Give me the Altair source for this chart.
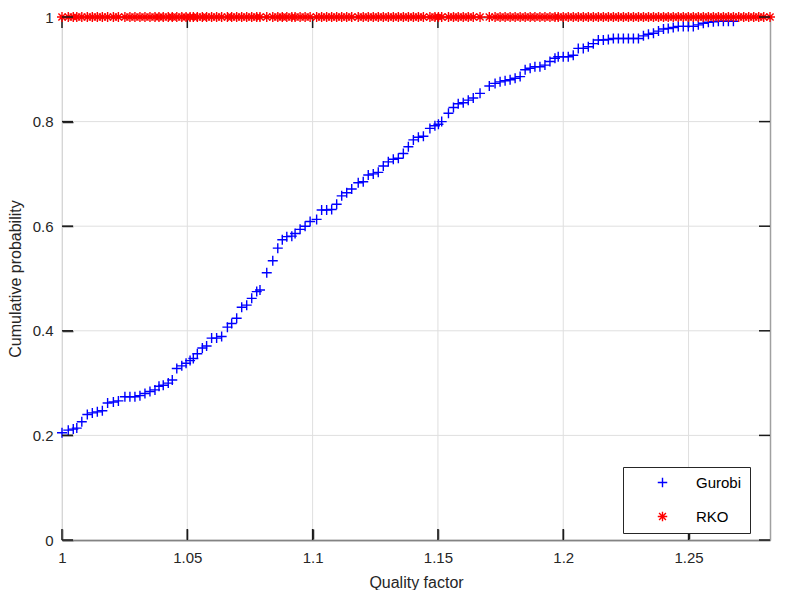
import altair as alt
import pandas as pd

# ---- data ----
gurobi_x = [1.0000, 1.0025, 1.0045, 1.0059, 1.0079, 1.0101, 1.0121, 1.0141, 1.0161, 1.0182,
            1.0205, 1.0225, 1.0251, 1.0271, 1.0291, 1.0311, 1.0331, 1.0351, 1.0371, 1.0387,
            1.0404, 1.0424, 1.0440, 1.0458, 1.0478,
            1.0495, 1.0511, 1.0524, 1.0540, 1.0560, 1.0577, 1.0597, 1.0617, 1.0637, 1.0660,
            1.0677, 1.0697, 1.0717, 1.0737, 1.0757, 1.0777, 1.0790,
            1.0817, 1.0841, 1.0861, 1.0879, 1.0897, 1.0917, 1.0930, 1.0950, 1.0970, 1.0990,
            1.1016, 1.1036, 1.1056, 1.1076, 1.1096, 1.1116, 1.1136,
            1.1156, 1.1182, 1.1202, 1.1222, 1.1242, 1.1262, 1.1282, 1.1302, 1.1322, 1.1342,
            1.1362, 1.1382, 1.1402, 1.1422, 1.1442, 1.1468, 1.1488, 1.1502,
            1.1515, 1.1542, 1.1562, 1.1581, 1.1601, 1.1621, 1.1641, 1.1668, 1.1705, 1.1728,
            1.1748, 1.1768, 1.1788, 1.1808, 1.1828, 1.1848, 1.1868, 1.1887, 1.1907, 1.1927,
            1.1947, 1.1967,
            1.1980, 1.2000, 1.2020, 1.2040, 1.2060, 1.2080, 1.2100, 1.2120, 1.2140, 1.2160,
            1.2180, 1.2200, 1.2220, 1.2240, 1.2260, 1.2280, 1.2300, 1.2320, 1.2340, 1.2360,
            1.2380, 1.2400, 1.2419, 1.2439, 1.2459, 1.2479, 1.2499, 1.2519, 1.2539, 1.2559,
            1.2579, 1.2599, 1.2619, 1.2639, 1.2659, 1.2679]
gurobi_y = [0.205, 0.210, 0.212, 0.214, 0.226, 0.240, 0.243, 0.245, 0.247, 0.262,
            0.264, 0.266, 0.274, 0.274, 0.274, 0.276, 0.280, 0.284, 0.287, 0.294,
            0.296, 0.300, 0.306, 0.328, 0.333,
            0.338, 0.343, 0.347, 0.356, 0.367, 0.371, 0.386, 0.386, 0.389, 0.407,
            0.414, 0.424, 0.445, 0.449, 0.462, 0.475, 0.478,
            0.511, 0.534, 0.558, 0.574, 0.580, 0.581, 0.586, 0.594, 0.600, 0.609,
            0.613, 0.631, 0.631, 0.632, 0.642, 0.658, 0.664,
            0.671, 0.683, 0.685, 0.698, 0.700, 0.703, 0.715, 0.723, 0.728, 0.730,
            0.739, 0.752, 0.765, 0.770, 0.772, 0.787, 0.792, 0.795,
            0.800, 0.816, 0.827, 0.834, 0.836, 0.841, 0.845, 0.854, 0.868, 0.873,
            0.876, 0.878, 0.880, 0.883, 0.886, 0.899, 0.902, 0.905, 0.905, 0.908,
            0.915, 0.921,
            0.924, 0.924, 0.924, 0.927, 0.940, 0.940, 0.943, 0.949, 0.956, 0.956,
            0.957, 0.959, 0.959, 0.959, 0.959, 0.959, 0.959, 0.964, 0.967, 0.969,
            0.973, 0.977, 0.978, 0.980, 0.982, 0.982, 0.982, 0.982, 0.985, 0.988,
            0.990, 0.991, 0.992, 0.992, 0.992, 0.992]

# RKO: cumulative probability 1 on the same x grid, continuing to the axis end
rko_tail_x = [1.2700, 1.2720, 1.2740, 1.2760, 1.2780, 1.2800, 1.2825]
rko_x = gurobi_x + rko_tail_x
rko_y = [1.0] * len(rko_x)

series_names = ["Gurobi", "RKO"]
x_ticks = [1, 1.05, 1.1, 1.15, 1.2, 1.25]
y_ticks = [0, 0.2, 0.4, 0.6, 0.8, 1]
x_lim = [1, 1.2825]
y_lim = [0, 1]

df = pd.concat([
    pd.DataFrame({"series": "Gurobi", "x": gurobi_x, "y": gurobi_y}),
    pd.DataFrame({"series": "RKO", "x": rko_x, "y": rko_y}),
], ignore_index=True)

W, H = 708, 523
TICK = 11  # tick length in pixels
tx = TICK / W * (x_lim[1] - x_lim[0])
ty = TICK / H * (y_lim[1] - y_lim[0])
xt_df = pd.DataFrame({"v": [float(v) for v in x_ticks]})
yt_df = pd.DataFrame({"v": [float(v) for v in y_ticks]})
bottom_df = pd.DataFrame({"v": [float(v) for v in x_ticks], "a": float(y_lim[0]), "b": y_lim[0] + ty})
top_df = pd.DataFrame({"v": [float(v) for v in x_ticks], "a": y_lim[1] - ty, "b": float(y_lim[1])})
left_df = pd.DataFrame({"v": [float(v) for v in y_ticks], "a": float(x_lim[0]), "b": x_lim[0] + tx})
right_df = pd.DataFrame({"v": [float(v) for v in y_ticks], "a": x_lim[1] - tx, "b": float(x_lim[1])})

# ---- styling ----
FONT = "Liberation Sans, Arial, Helvetica, sans-serif"
DARK = "#262626"
GRID = "#dfdfdf"
PLUS = "M-1,0L1,0M0,-1L0,1"
STAR = "M-1,0L1,0M0,-1L0,1M-0.72,-0.72L0.72,0.72M-0.72,0.72L0.72,-0.72"

xscale = alt.Scale(domain=x_lim, nice=False, zero=False)
yscale = alt.Scale(domain=y_lim, nice=False, zero=False)

base = alt.Chart(df)

legend = alt.Legend(
    title=None, orient="none", legendX=561, legendY=450,
    padding=8, strokeColor=DARK, fillColor="white",
    labelFont=FONT, labelFontSize=15, labelColor="black",
    symbolSize=90, symbolStrokeWidth=1.4,
    rowPadding=17, symbolOffset=24, labelOffset=26,
    labelExpr="datum.label + '\u00a0\u00a0\u00a0\u00a0\u00a0\u00a0\u00a0'",
)

main = base.mark_point(filled=False, size=100, strokeWidth=1.4, opacity=1).encode(
    x=alt.X("x:Q", scale=xscale, axis=alt.Axis(
        orient="bottom", values=x_ticks, format="~g", title="Quality factor",
        grid=False, ticks=False, tickSize=0, domain=True, domainColor=DARK, domainWidth=1.3,
        labelPadding=10, labelFont=FONT, labelFontSize=15, labelColor=DARK,
        labelFlush=False, labelOverlap=False,
        titleFont=FONT, titleFontSize=16, titleFontWeight="normal", titleColor=DARK,
        titlePadding=9)),
    y=alt.Y("y:Q", scale=yscale, axis=alt.Axis(
        orient="left", values=y_ticks, format="~g", title="Cumulative probability",
        grid=False, ticks=False, tickSize=0, domain=True, domainColor="#cccccc", domainWidth=1,
        labelPadding=9, labelFont=FONT, labelFontSize=15, labelColor=DARK,
        labelFlush=False, labelOverlap=False,
        titleFont=FONT, titleFontSize=16, titleFontWeight="normal", titleColor=DARK,
        titlePadding=9)),
    color=alt.Color("series:N", scale=alt.Scale(domain=series_names, range=["#0000ff", "#ff0000"]),
                    legend=legend),
    shape=alt.Shape("series:N", scale=alt.Scale(domain=series_names, range=[PLUS, STAR]),
                    legend=legend),
)

# grid lines (drawn first, beneath everything)
grid_x = alt.Chart(xt_df).mark_rule(color=GRID, strokeWidth=1).encode(
    x=alt.X("v:Q", scale=xscale, axis=None))
grid_y = alt.Chart(yt_df).mark_rule(color=GRID, strokeWidth=1).encode(
    y=alt.Y("v:Q", scale=yscale, axis=None))

# frame (top and right edges of the box)
frame = base.mark_point(opacity=0).encode(
    x=alt.X("x:Q", scale=xscale, axis=alt.Axis(
        orient="top", labels=False, ticks=False, grid=False, domain=True,
        domainColor=DARK, domainWidth=1.3, title=None)),
    y=alt.Y("y:Q", scale=yscale, axis=alt.Axis(
        orient="right", labels=False, ticks=False, grid=False, domain=True,
        domainColor="#a0a0a0", domainWidth=1.5, title=None)),
)


# inward ticks via opposite-side axes moved across the plot (outward ticks then point inward)
def tick_only(orient, vals, off):
    return alt.Axis(orient=orient, values=vals, labels=False, domain=False, grid=False,
                    ticks=True, tickSize=TICK, offset=off, tickColor="#1a1a1a",
                    tickWidth=1.5, title=None)


ticks_axes_a = base.mark_point(opacity=0).encode(
    x=alt.X("x:Q", scale=xscale, axis=tick_only("top", x_ticks, -H)),      # bottom edge, pointing up
    y=alt.Y("y:Q", scale=yscale, axis=tick_only("right", y_ticks, -W)),    # left edge, pointing right
)

# inward tick marks as field-driven segments (backup)
rs = dict(color="#1a1a1a", strokeWidth=1.5)


def vtick(d):
    return alt.Chart(d).mark_rule(**rs).encode(
        x=alt.X("v:Q", scale=xscale, axis=None),
        y=alt.Y("a:Q", scale=yscale, axis=None), y2="b:Q")


def htick(d):
    return alt.Chart(d).mark_rule(**rs).encode(
        y=alt.Y("v:Q", scale=yscale, axis=None),
        x=alt.X("a:Q", scale=xscale, axis=None), x2="b:Q")


chart = alt.layer(grid_x, grid_y, frame, vtick(top_df), main, ticks_axes_a,
                  vtick(bottom_df), htick(left_df), htick(right_df)).resolve_axis(
    x="independent", y="independent"
).properties(
    width=W, height=H,
    autosize=alt.AutoSizeParams(type="none"),
    padding={"left": 54, "top": 9, "right": 15, "bottom": 50},
    background="white",
).configure_view(stroke=None)

chart.save("out.html", embed_options={"renderer": "svg", "actions": False})
